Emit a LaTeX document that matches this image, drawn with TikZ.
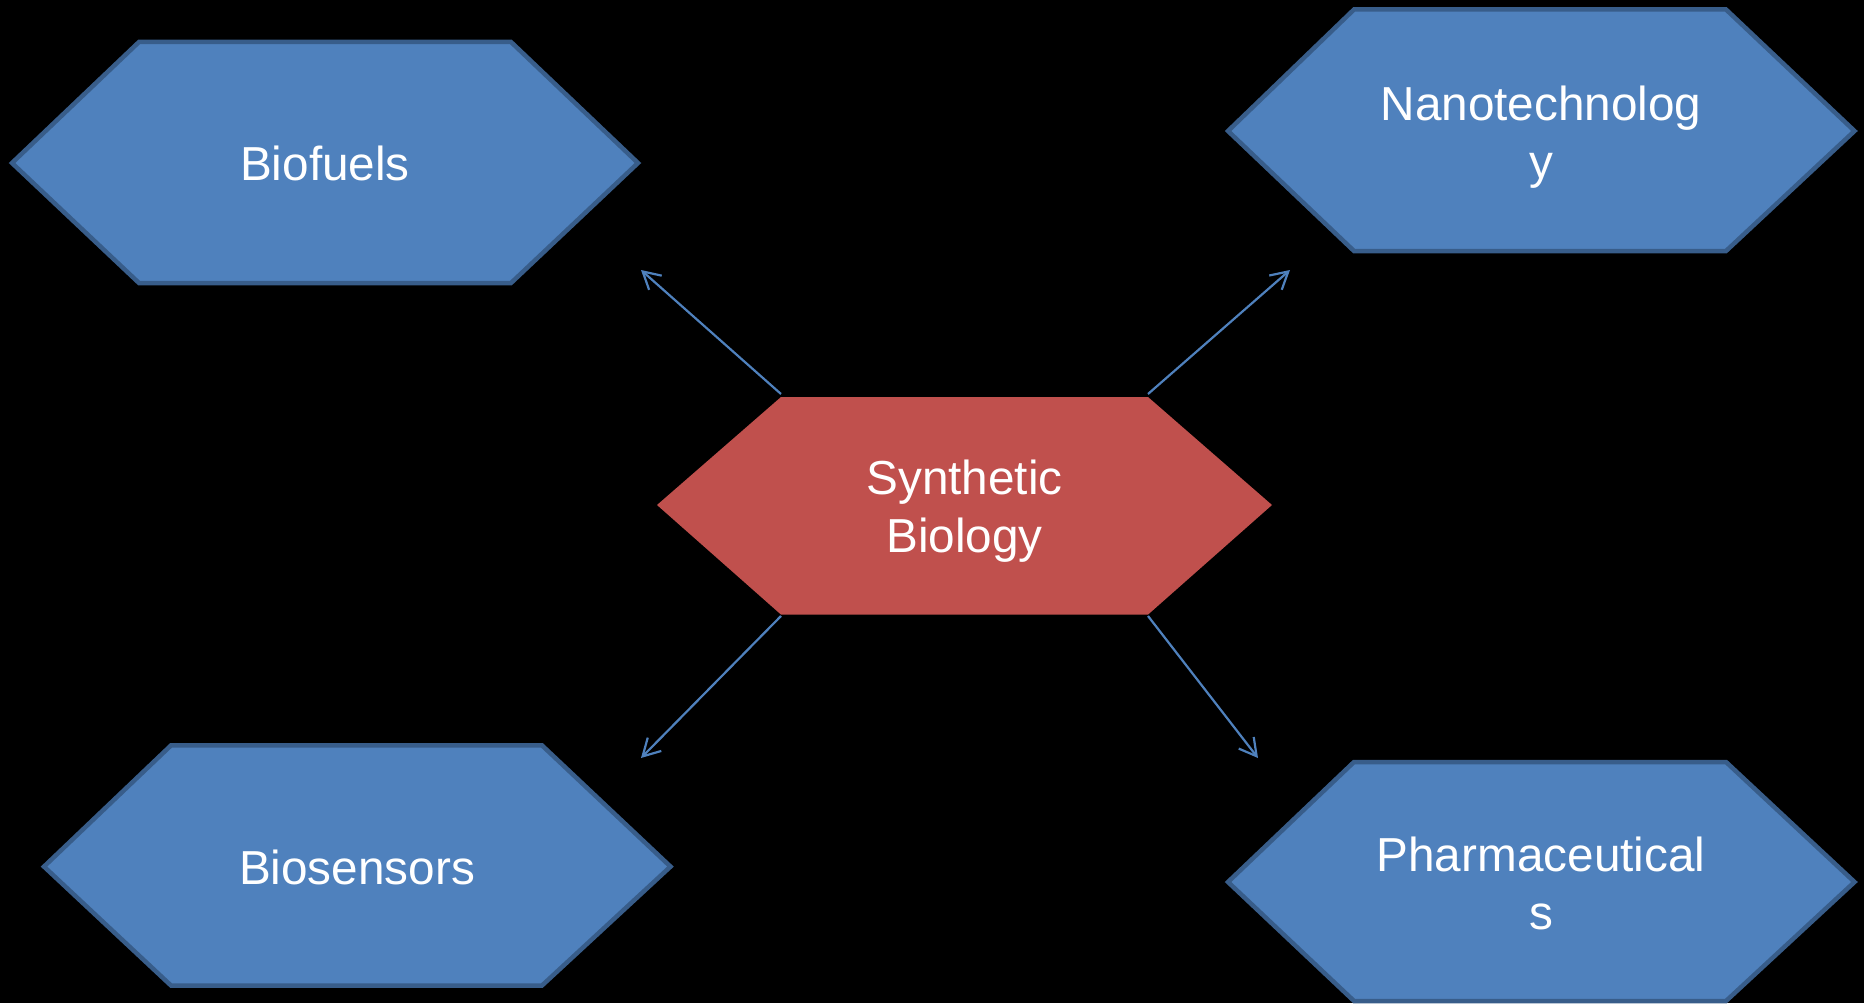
\documentclass[tikz,border=0pt]{standalone}
\usepackage{fontspec}
\setmainfont{Liberation Sans}
\usetikzlibrary{arrows.meta}
\definecolor{hexblue}{HTML}{4F81BD}
\definecolor{hexborder}{HTML}{385D8A}
\definecolor{hexred}{HTML}{C0504D}
\begin{document}
\begin{tikzpicture}[x=1pt,y=-1pt,
  bluehex/.style={fill=hexblue,draw=hexborder,line width=4.5pt,line join=miter},
  redhex/.style={fill=hexred},
  lbl/.style={text=white,align=center,font=\fontsize{47.7}{58}\selectfont},
  link/.style={draw=hexblue,line width=2.2pt,-{Straight Barb[length=17pt,width=19pt]}}]
\fill[black] (0,0) rectangle (1864,1003);
% Biofuels
\path[bluehex] (12,163) -- (139,42) -- (511,42) -- (638,163) -- (511,283) -- (139,283) -- cycle;
\node[lbl] (biofuels) at (325,163) {Biofuels};
% Nanotechnology
\path[bluehex] (1228,131) -- (1354,9.5) -- (1726,9.5) -- (1854.5,131) -- (1726,251) -- (1354,251) -- cycle;
\node[lbl] (nano) at (1541,137) {Nanotechnolog\\y};
% Biosensors
\path[bluehex] (44,866.6) -- (171,745.4) -- (542,745.4) -- (670.5,866.6) -- (542,985.5) -- (171,985.5) -- cycle;
\node[lbl] (sensors) at (357,867) {Biosensors};
% Pharmaceuticals
\path[bluehex] (1228,882) -- (1354,762) -- (1726,762) -- (1854.5,882) -- (1726,1001) -- (1354,1001) -- cycle;
\node[lbl] (pharma) at (1541,883) {Pharmaceutical\\s};
% Synthetic Biology
\path[redhex] (657,505) -- (781,397) -- (1148,397) -- (1272,505) -- (1148,614.6) -- (781,614.6) -- cycle;
\node[lbl] (synbio) at (964.5,511) {Synthetic\\Biology};
% arrow ends
\coordinate (sbTL) at (781,394);
\coordinate (sbTR) at (1148,394);
\coordinate (sbBL) at (781,616);
\coordinate (sbBR) at (1148,616);
\coordinate (tBio) at (641,270);
\coordinate (tNano) at (1290,270);
\coordinate (tSens) at (641,758);
\coordinate (tPharm) at (1258,758);
\draw[link] (sbTL) -- (tBio);
\draw[link] (sbTR) -- (tNano);
\draw[link] (sbBL) -- (tSens);
\draw[link] (sbBR) -- (tPharm);
\end{tikzpicture}
\end{document}
